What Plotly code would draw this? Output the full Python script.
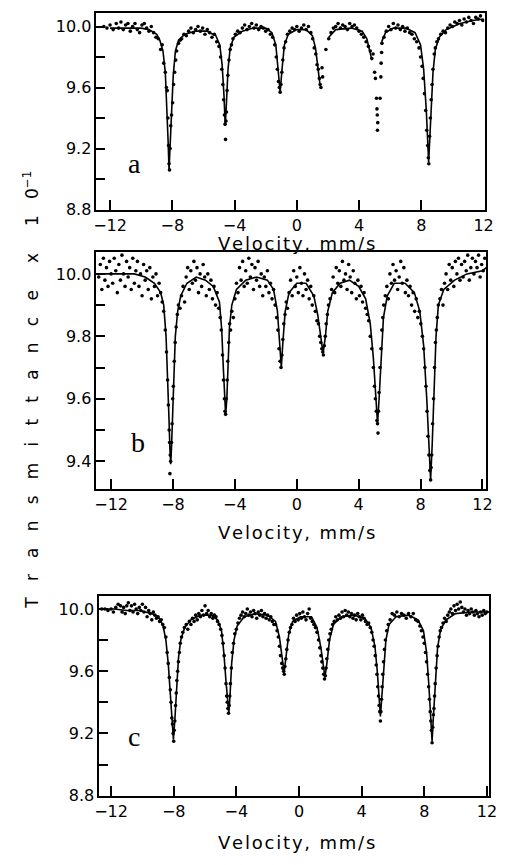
import plotly.graph_objects as go

# ---------------- data (velocity mm/s, transmittance x10^-1) ----------------
X_TICKS = [-12, -8, -4, 0, 4, 8, 12]
X_TICK_LABELS = ["\u221212", "\u22128", "\u22124", "0", "4", "8", "12"]
Y_TICKS_AC = [8.8, 9.0, 9.2, 9.4, 9.6, 9.8, 10.0]
Y_LABELS_AC = ["8.8", "", "9.2", "", "9.6", "", "10.0"]
Y_TICKS_B = [9.4, 9.5, 9.6, 9.7, 9.8, 9.9, 10.0]
Y_LABELS_B = ["9.4", "", "9.6", "", "9.8", "", "10.0"]
PANEL_LABELS = ["a", "b", "c"]
X_TITLE = "Velocity, mm/s"

DOTS_A = [
    (-12.4,10.0),(-12.2,9.99),(-12.0,10.01),(-11.8,9.98),(-11.6,10.02),(-11.45,9.99),(-11.3,10.03),
    (-11.15,9.98),(-11.0,10.01),(-10.85,10.02),(-10.7,9.97),(-10.55,10.0),(-10.4,10.02),(-10.25,9.98),
    (-10.1,9.96),(-9.95,10.01),(-9.8,10.02),(-9.65,9.99),(-9.5,9.97),(-9.35,10.0),(-9.2,9.96),
    (-9.05,9.93),(-8.9,9.92),(-8.75,9.85),(-8.65,9.88),
    (-8.55,9.76),(-8.45,9.7),(-8.38,9.6),(-8.32,9.58),(-8.28,9.4),(-8.24,9.22),(-8.21,9.1),(-8.18,9.06),
    (-8.14,9.2),(-8.1,9.35),(-8.05,9.42),(-7.98,9.5),(-7.92,9.62),(-7.85,9.7),(-7.78,9.78),(-7.72,9.84),
    (-7.6,9.89),(-7.5,9.91),(-7.4,9.92),
    (-7.25,9.95),(-7.1,9.94),(-6.95,9.97),(-6.8,9.99),(-6.65,9.96),(-6.5,9.98),(-6.35,10.0),(-6.2,9.97),
    (-6.05,9.99),(-5.9,9.95),(-5.75,9.98),(-5.6,9.96),(-5.45,9.93),(-5.3,9.95),(-5.15,9.9),(-5.0,9.87),
    (-4.9,9.8),(-4.82,9.72),(-4.75,9.62),(-4.7,9.52),(-4.65,9.42),(-4.61,9.36),(-4.58,9.26),(-4.55,9.38),
    (-4.52,9.44),(-4.48,9.58),(-4.43,9.68),(-4.36,9.78),(-4.28,9.85),(-4.2,9.88),(-4.1,9.92),
    (-3.95,9.95),(-3.8,9.97),(-3.65,9.96),(-3.5,9.99),(-3.35,10.01),(-3.2,9.98),(-3.05,10.0),(-2.9,10.02),
    (-2.75,9.99),(-2.6,10.01),(-2.45,9.98),(-2.3,10.0),(-2.15,9.99),(-2.0,9.97),(-1.85,9.98),(-1.7,9.95),
    (-1.55,9.93),(-1.42,9.88),
    (-1.32,9.8),(-1.25,9.72),(-1.18,9.64),(-1.12,9.6),(-1.07,9.57),(-1.02,9.62),(-0.96,9.7),(-0.9,9.78),
    (-0.82,9.86),(-0.72,9.9),(-0.6,9.95),
    (-0.45,9.97),(-0.3,9.99),(-0.15,9.98),(0.0,10.0),(0.15,9.97),(0.3,9.99),(0.45,10.01),(0.6,9.98),
    (0.75,10.0),(0.9,9.96),(1.02,9.92),(1.12,9.86),
    (1.22,9.82),(1.3,9.75),(1.38,9.72),(1.45,9.66),(1.5,9.62),(1.55,9.6),(1.62,9.73),(1.66,9.67),(1.87,9.85),
    (2.05,9.92),(2.2,9.96),(2.35,9.99),(2.5,10.0),(2.65,10.02),(2.8,9.99),(2.95,10.01),(3.1,10.0),
    (3.25,9.98),(3.4,10.02),(3.55,10.0),(3.7,10.01),(3.85,9.99),(4.0,9.97),(4.15,9.95),(4.3,9.93),
    (4.45,9.9),(4.6,9.87),(4.72,9.84),
    (4.82,9.79),(4.9,9.82),(5.0,9.7),(5.05,9.66),(5.12,9.53),(5.15,9.46),(5.17,9.42),(5.2,9.37),
    (5.18,9.32),(5.35,9.53),(5.4,9.67),(5.42,9.76),(5.45,9.83),(5.47,9.89),
    (5.6,9.93),(5.75,9.97),(5.9,10.0),(6.05,9.98),(6.2,10.02),(6.35,9.99),(6.5,10.01),(6.65,9.98),
    (6.8,10.0),(6.95,9.97),(7.1,9.99),(7.25,9.96),(7.4,9.95),(7.55,9.92),(7.7,9.9),(7.85,9.86),
    (7.95,9.8),(8.05,9.74),(8.12,9.66),(8.2,9.56),(8.28,9.45),(8.35,9.32),(8.41,9.22),(8.45,9.14),
    (8.48,9.1),(8.53,9.28),(8.58,9.4),(8.63,9.52),(8.69,9.62),(8.75,9.72),(8.83,9.82),(8.9,9.86),(9.0,9.9),
    (9.1,9.92),(9.25,9.95),(9.4,9.97),(9.55,9.96),(9.7,9.99),(9.85,10.01),(10.0,10.0),(10.15,10.03),
    (10.3,10.02),(10.45,10.04),(10.6,10.01),(10.75,10.05),(10.9,10.03),(11.05,10.06),(11.2,10.04),
    (11.35,10.02),(11.5,10.06),(11.65,10.05),(11.8,10.07),(11.95,10.04),
]

FIT_A = [
    (-12.0,9.99),(-11.0,9.99),(-10.0,9.99),(-9.5,9.98),(-9.0,9.95),(-8.8,9.91),(-8.6,9.84),(-8.45,9.7),
    (-8.35,9.5),(-8.27,9.25),(-8.21,9.06),(-8.14,9.25),(-8.04,9.5),(-7.94,9.68),(-7.8,9.84),(-7.6,9.91),
    (-7.2,9.95),(-6.5,9.97),(-5.8,9.97),(-5.2,9.94),(-4.95,9.88),(-4.8,9.75),(-4.68,9.55),(-4.6,9.35),
    (-4.52,9.5),(-4.42,9.72),(-4.28,9.86),(-4.05,9.93),(-3.5,9.97),(-2.8,9.99),(-2.0,9.99),(-1.6,9.96),
    (-1.35,9.88),(-1.2,9.72),(-1.07,9.57),(-0.95,9.72),(-0.8,9.88),(-0.55,9.95),(0.0,9.98),(0.6,9.98),
    (1.0,9.94),(1.2,9.86),(1.35,9.74),(1.5,9.61),
    (None,None),
    (2.05,9.93),(2.5,9.98),(3.5,9.99),(4.2,9.97),(4.5,9.92),(4.7,9.84),(4.8,9.79),
    (None,None),
    (5.45,9.9),(5.7,9.96),(6.2,9.99),(7.0,9.99),(7.6,9.96),(7.95,9.88),(8.15,9.72),(8.32,9.45),
    (8.47,9.11),(8.6,9.4),(8.75,9.7),(8.9,9.85),(9.15,9.93),(9.6,9.98),(10.5,10.02),(11.3,10.04),(12.0,10.05),
]

DOTS_B = [
    (-12.8,9.99),(-12.7,10.03),(-12.6,9.95),(-12.5,10.05),(-12.4,9.98),(-12.3,10.02),(-12.2,9.96),
    (-12.1,10.04),(-12.0,10.0),(-11.9,9.97),(-11.8,10.05),(-11.7,10.01),(-11.6,9.94),(-11.5,10.03),
    (-11.4,9.98),(-11.3,10.06),(-11.2,10.0),(-11.1,9.96),(-11.0,10.04),(-10.9,9.99),(-10.8,10.02),
    (-10.7,9.95),(-10.6,10.05),(-10.5,9.97),(-10.4,10.01),(-10.3,10.04),(-10.2,9.96),(-10.1,10.0),
    (-10.0,9.93),(-9.9,10.03),(-9.8,9.98),(-9.7,10.01),(-9.6,9.95),(-9.5,10.02),(-9.4,9.92),(-9.3,9.99),
    (-9.2,9.96),(-9.1,10.0),(-9.0,9.93),(-8.9,9.97),(-8.8,9.94),(-8.7,9.91),
    (-8.6,9.88),(-8.5,9.82),(-8.42,9.75),(-8.35,9.66),(-8.3,9.58),(-8.25,9.5),(-8.22,9.46),(-8.18,9.42),
    (-8.15,9.4),(-8.2,9.36),(-8.1,9.46),(-8.06,9.52),(-8.02,9.6),(-7.98,9.64),(-7.92,9.72),(-7.86,9.78),
    (-7.8,9.83),(-7.72,9.87),(-7.65,9.9),(-7.55,9.89),
    (-7.45,9.93),(-7.35,9.96),(-7.25,9.91),(-7.15,9.99),(-7.05,10.02),(-6.95,9.95),(-6.85,10.01),
    (-6.75,9.97),(-6.65,10.04),(-6.55,9.98),(-6.45,10.02),(-6.35,9.94),(-6.25,10.0),(-6.15,9.96),
    (-6.05,10.03),(-5.95,9.99),(-5.85,9.93),(-5.75,10.0),(-5.65,9.95),(-5.55,9.98),(-5.45,9.92),
    (-5.35,9.96),(-5.25,9.9),(-5.15,9.94),(-5.05,9.89),(-4.95,9.86),
    (-4.88,9.82),(-4.8,9.74),(-4.74,9.66),(-4.68,9.6),(-4.64,9.56),(-4.6,9.55),(-4.56,9.6),(-4.5,9.66),
    (-4.46,9.72),(-4.4,9.78),(-4.34,9.84),(-4.28,9.82),(-4.2,9.88),(-4.1,9.86),
    (-4.0,9.92),(-3.9,9.97),(-3.8,9.94),(-3.7,10.02),(-3.6,9.98),(-3.5,10.04),(-3.4,9.96),(-3.3,10.01),
    (-3.2,9.97),(-3.1,10.05),(-3.0,9.99),(-2.9,10.03),(-2.8,9.95),(-2.7,10.02),(-2.6,9.98),(-2.5,10.04),
    (-2.4,9.96),(-2.3,10.0),(-2.2,9.93),(-2.1,9.99),(-2.0,9.96),(-1.9,10.01),(-1.8,9.94),(-1.7,9.97),
    (-1.6,9.92),(-1.5,9.95),(-1.4,9.9),
    (-1.3,9.86),(-1.22,9.82),(-1.15,9.76),(-1.08,9.72),(-1.02,9.7),(-0.96,9.74),(-0.9,9.79),(-0.84,9.84),
    (-0.76,9.87),(-0.68,9.91),(-0.6,9.89),
    (-0.5,9.94),(-0.4,9.98),(-0.3,9.93),(-0.2,10.01),(-0.1,9.96),(0.0,9.99),(0.1,9.94),(0.2,10.02),
    (0.3,9.97),(0.4,9.93),(0.5,10.0),(0.6,9.95),(0.7,9.98),(0.8,9.92),(0.9,9.96),(1.0,9.9),(1.1,9.93),
    (1.2,9.88),(1.3,9.85),
    (1.4,9.84),(1.48,9.8),(1.55,9.78),(1.62,9.76),(1.68,9.75),(1.72,9.74),(1.78,9.77),(1.84,9.8),
    (1.9,9.84),(1.98,9.87),(2.05,9.9),(2.15,9.92),
    (2.25,9.95),(2.35,9.99),(2.45,9.94),(2.55,10.02),(2.65,9.97),(2.75,10.01),(2.85,9.96),(2.95,10.04),
    (3.05,9.98),(3.15,10.0),(3.25,9.95),(3.35,10.03),(3.45,9.99),(3.55,9.94),(3.65,10.01),(3.75,9.97),
    (3.85,9.92),(3.95,9.98),(4.05,9.93),(4.15,9.96),(4.25,9.91),(4.35,9.94),(4.45,9.89),(4.55,9.87),
    (4.65,9.85),(4.75,9.8),(4.85,9.76),(4.95,9.7),(5.02,9.64),(5.08,9.6),(5.14,9.56),(5.18,9.53),
    (5.22,9.52),(5.25,9.49),(5.28,9.56),(5.32,9.62),(5.38,9.7),(5.44,9.76),(5.5,9.82),(5.56,9.86),(5.62,9.9),
    (5.72,9.93),(5.82,9.96),(5.92,9.92),(6.02,10.0),(6.12,9.97),(6.22,10.03),(6.32,9.98),(6.42,10.01),
    (6.52,9.95),(6.62,9.99),(6.72,10.04),(6.82,9.97),(6.92,10.02),(7.02,9.94),(7.12,9.98),(7.22,9.93),
    (7.32,9.96),(7.42,9.9),(7.52,9.94),(7.62,9.88),(7.72,9.92),(7.82,9.86),(7.92,9.88),
    (8.02,9.84),(8.12,9.8),(8.2,9.76),(8.28,9.7),(8.35,9.64),(8.42,9.56),(8.48,9.48),(8.54,9.42),
    (8.6,9.37),(8.65,9.34),(8.68,9.38),(8.72,9.42),(8.78,9.52),(8.84,9.6),(8.9,9.7),(8.96,9.78),
    (9.02,9.82),(9.08,9.86),(9.15,9.9),
    (9.25,9.92),(9.35,9.95),(9.45,9.9),(9.55,9.97),(9.65,10.0),(9.75,9.95),(9.85,10.03),(9.95,9.98),
    (10.05,10.02),(10.15,9.96),(10.25,10.04),(10.35,10.0),(10.45,10.05),(10.55,9.98),(10.65,10.03),
    (10.75,9.99),(10.85,10.04),(10.95,10.01),(11.05,10.06),(11.15,9.98),(11.25,10.02),(11.35,10.05),
    (11.45,10.0),(11.55,10.04),(11.65,10.02),(11.75,10.06),(11.85,9.99),(11.95,10.03),(12.05,10.01),(12.15,10.05),
]

FIT_B = [
    (-12.9,10.0),(-11.5,10.0),(-10.5,10.0),(-9.8,9.99),(-9.2,9.97),(-8.8,9.94),(-8.6,9.9),(-8.45,9.8),
    (-8.35,9.68),(-8.27,9.55),(-8.2,9.44),(-8.15,9.39),(-8.1,9.44),(-8.03,9.56),(-7.95,9.68),(-7.85,9.8),
    (-7.7,9.88),(-7.5,9.93),(-7.1,9.97),(-6.5,9.99),(-5.9,9.98),(-5.4,9.96),(-5.0,9.91),(-4.85,9.82),
    (-4.75,9.7),(-4.65,9.58),(-4.6,9.55),(-4.52,9.6),(-4.45,9.72),(-4.35,9.83),(-4.2,9.9),(-3.9,9.95),
    (-3.3,9.98),(-2.6,9.99),(-1.9,9.98),(-1.5,9.95),(-1.25,9.88),(-1.1,9.78),(-1.0,9.7),(-0.9,9.78),
    (-0.75,9.88),(-0.5,9.94),(0.0,9.97),(0.6,9.97),(1.1,9.93),(1.35,9.87),(1.55,9.79),(1.7,9.745),
    (1.85,9.8),(2.0,9.88),(2.3,9.94),(2.8,9.97),(3.4,9.98),(4.0,9.96),(4.45,9.92),(4.75,9.84),(4.95,9.73),
    (5.1,9.6),(5.22,9.52),(5.32,9.6),(5.45,9.74),(5.6,9.86),(5.85,9.93),(6.3,9.97),(7.0,9.97),(7.6,9.94),
    (7.95,9.88),(8.2,9.77),(8.4,9.6),(8.55,9.42),(8.65,9.34),(8.75,9.45),(8.88,9.65),(9.0,9.8),(9.15,9.9),
    (9.5,9.95),(10.2,9.98),(11.0,10.0),(12.0,10.01),(12.25,10.02),
]

DOTS_C = [
    (-12.6,10.0),(-12.4,10.0),(-12.2,9.99),(-12.0,10.0),(-11.85,9.98),(-11.7,10.01),(-11.55,10.03),
    (-11.4,10.02),(-11.3,9.98),(-11.2,10.01),(-11.1,9.97),(-11.0,10.02),(-10.9,10.04),(-10.8,9.99),
    (-10.7,10.02),(-10.6,9.98),(-10.5,10.03),(-10.4,10.0),(-10.3,9.97),(-10.2,10.01),(-10.1,9.99),
    (-10.0,10.03),(-9.9,9.98),(-9.8,10.01),(-9.7,9.95),(-9.6,9.99),(-9.5,9.97),(-9.4,9.93),(-9.3,9.98),
    (-9.2,9.96),(-9.1,9.94),(-9.0,9.95),(-8.9,9.92),(-8.8,9.93),(-8.7,9.9),
    (-8.6,9.88),(-8.5,9.82),(-8.42,9.72),(-8.35,9.65),(-8.28,9.56),(-8.22,9.48),(-8.17,9.4),(-8.12,9.3),
    (-8.08,9.26),(-8.04,9.2),(-8.0,9.15),(-7.97,9.22),(-7.93,9.28),(-7.88,9.38),(-7.84,9.46),(-7.8,9.54),
    (-7.75,9.6),(-7.7,9.66),(-7.64,9.72),(-7.58,9.78),(-7.5,9.82),(-7.42,9.85),(-7.32,9.88),
    (-7.2,9.9),(-7.1,9.87),(-7.0,9.92),(-6.9,9.9),(-6.8,9.94),(-6.7,9.92),(-6.6,9.96),(-6.5,9.93),
    (-6.4,9.97),(-6.3,9.95),(-6.2,9.99),(-6.1,9.96),(-6.0,10.02),(-5.9,9.97),(-5.8,9.99),(-5.7,9.95),
    (-5.6,9.97),(-5.5,9.94),(-5.4,9.96),(-5.3,9.95),(-5.2,9.92),(-5.1,9.9),(-5.0,9.87),
    (-4.92,9.83),(-4.85,9.78),(-4.78,9.7),(-4.72,9.62),(-4.66,9.52),(-4.62,9.44),(-4.58,9.4),(-4.54,9.36),
    (-4.5,9.33),(-4.46,9.38),(-4.42,9.44),(-4.38,9.52),(-4.32,9.62),(-4.26,9.72),(-4.18,9.78),(-4.1,9.84),(-4.0,9.87),
    (-3.9,9.91),(-3.8,9.94),(-3.7,9.96),(-3.6,9.98),(-3.5,9.95),(-3.4,9.97),(-3.3,10.0),(-3.2,9.96),
    (-3.1,9.98),(-3.0,9.95),(-2.9,9.99),(-2.8,9.97),(-2.7,9.94),(-2.6,9.98),(-2.5,9.96),(-2.4,9.99),
    (-2.3,9.95),(-2.2,9.97),(-2.1,9.94),(-2.0,9.96),(-1.9,9.93),(-1.8,9.95),(-1.7,9.92),(-1.6,9.9),(-1.5,9.9),
    (-1.4,9.86),(-1.32,9.82),(-1.25,9.76),(-1.18,9.7),(-1.1,9.65),(-1.04,9.62),(-0.98,9.6),(-0.94,9.58),
    (-0.9,9.63),(-0.84,9.68),(-0.78,9.74),(-0.7,9.8),(-0.62,9.85),(-0.54,9.88),(-0.45,9.9),
    (-0.35,9.94),(-0.25,9.92),(-0.15,9.96),(-0.05,9.93),(0.05,9.97),(0.15,9.94),(0.25,9.98),(0.35,9.95),
    (0.45,9.93),(0.55,9.97),(0.65,10.0),(0.75,9.94),(0.85,9.92),(0.95,9.9),(1.05,9.88),
    (1.15,9.85),(1.25,9.8),(1.33,9.75),(1.4,9.7),(1.46,9.66),(1.52,9.62),(1.58,9.58),(1.63,9.55),
    (1.68,9.57),(1.73,9.62),(1.78,9.68),(1.84,9.74),(1.9,9.8),(1.98,9.84),(2.06,9.87),(2.15,9.9),
    (2.25,9.92),(2.35,9.95),(2.45,9.93),(2.55,9.96),(2.65,9.94),(2.75,9.98),(2.85,9.95),(2.95,9.99),
    (3.05,9.96),(3.15,9.98),(3.25,9.95),(3.35,9.97),(3.45,9.94),(3.55,9.96),(3.65,9.93),(3.75,9.97),
    (3.85,9.95),(3.95,9.93),(4.05,9.96),(4.15,9.94),(4.25,9.92),(4.35,9.9),(4.45,9.91),(4.55,9.88),
    (4.65,9.85),(4.73,9.8),(4.8,9.76),(4.87,9.7),(4.93,9.64),(4.98,9.58),(5.03,9.5),(5.08,9.44),
    (5.12,9.38),(5.16,9.34),(5.2,9.28),(5.23,9.34),(5.27,9.42),(5.31,9.5),(5.35,9.58),(5.4,9.66),
    (5.46,9.74),(5.52,9.8),(5.6,9.86),(5.7,9.9),
    (5.82,9.93),(5.95,9.97),(6.1,9.96),(6.25,9.98),(6.4,9.95),(6.55,9.97),(6.7,9.96),(6.85,9.94),
    (7.0,9.97),(7.15,9.95),(7.3,9.97),(7.45,9.93),(7.6,9.92),(7.72,9.89),(7.82,9.86),
    (7.92,9.82),(8.0,9.78),(8.08,9.72),(8.15,9.66),(8.22,9.58),(8.28,9.5),(8.33,9.42),(8.38,9.34),
    (8.42,9.28),(8.46,9.22),(8.5,9.14),(8.54,9.24),(8.58,9.32),(8.62,9.36),(8.66,9.44),(8.7,9.52),
    (8.76,9.62),(8.82,9.7),(8.88,9.76),(8.95,9.82),(9.02,9.86),(9.1,9.88),
    (9.2,9.91),(9.3,9.94),(9.4,9.92),(9.5,9.96),(9.6,9.98),(9.7,10.0),(9.8,9.97),(9.9,10.02),(10.0,9.99),
    (10.1,10.03),(10.3,10.045),(10.2,10.0),(10.4,10.01),(10.5,9.98),(10.6,10.0),(10.7,9.96),(10.8,9.99),
    (10.9,9.97),(11.0,10.0),(11.1,9.98),(11.2,9.96),(11.3,9.99),(11.4,9.97),(11.5,9.95),(11.6,9.98),
    (11.7,9.96),(11.8,9.99),(11.9,9.97),(12.0,9.98),
]

FIT_C = [
    (-12.75,10.0),(-11.8,10.0),(-11.0,9.99),(-10.2,9.99),(-9.4,9.97),(-9.0,9.95),(-8.7,9.9),(-8.5,9.8),
    (-8.35,9.65),(-8.2,9.45),(-8.1,9.28),(-8.02,9.16),(-7.92,9.3),(-7.82,9.5),(-7.7,9.68),(-7.55,9.8),
    (-7.3,9.88),(-6.9,9.93),(-6.3,9.96),(-5.6,9.96),(-5.2,9.93),(-4.95,9.86),(-4.8,9.72),(-4.65,9.52),
    (-4.55,9.38),(-4.48,9.33),(-4.4,9.45),(-4.3,9.65),(-4.15,9.8),(-3.95,9.89),(-3.5,9.95),(-2.8,9.97),
    (-2.0,9.96),(-1.5,9.92),(-1.25,9.82),(-1.1,9.7),(-0.95,9.59),(-0.82,9.7),(-0.65,9.84),(-0.4,9.92),
    (0.1,9.95),(0.8,9.95),(1.15,9.88),(1.4,9.75),(1.55,9.62),(1.66,9.56),(1.78,9.65),(1.95,9.8),(2.2,9.9),
    (2.7,9.95),(3.5,9.96),(4.2,9.94),(4.6,9.88),(4.85,9.76),(5.0,9.6),(5.12,9.42),(5.2,9.31),(5.28,9.42),
    (5.4,9.62),(5.55,9.8),(5.75,9.9),(6.2,9.95),(7.0,9.96),(7.6,9.93),(7.95,9.86),(8.15,9.72),(8.3,9.5),
    (8.42,9.28),(8.5,9.15),(8.58,9.3),(8.7,9.52),(8.85,9.75),(9.05,9.87),(9.4,9.93),(10.0,9.97),
    (11.0,9.98),(12.16,9.98),
]

# ---------------- layout helpers ----------------
W, H = 512, 865
FONT = "DejaVu Sans"

def fx(px):
    return px / W

def fy(py):
    return 1 - py / H

panels = [
    dict(dots=DOTS_A, fit=FIT_A, xpx=(94, 493), ypx=(13, 212), xr=(-12.875, 12.06), yr=(8.8, 10.09),
         yt=Y_TICKS_AC, yl=Y_LABELS_AC, lab=(133, 165), ttl=246),
    dict(dots=DOTS_B, fit=FIT_B, xpx=(94, 495), ypx=(255, 495), xr=(-12.95, 12.26), yr=(9.31, 10.07),
         yt=Y_TICKS_B, yl=Y_LABELS_B, lab=(137, 448), ttl=539),
    dict(dots=DOTS_C, fit=FIT_C, xpx=(97, 498), ypx=(603, 805), xr=(-12.75, 12.16), yr=(8.8, 10.083),
         yt=Y_TICKS_AC, yl=Y_LABELS_AC, lab=(133, 745), ttl=852),
]

fig = go.Figure()
annotations = []
xtitle_spaced = "\u200a".join(list(X_TITLE))
for i, p in enumerate(panels, start=1):
    xa = "x" if i == 1 else f"x{i}"
    ya = "y" if i == 1 else f"y{i}"
    fv = [d[0] for d in p["fit"]]
    ft = [d[1] for d in p["fit"]]
    fig.add_trace(go.Scatter(x=fv, y=ft, mode="lines", xaxis=xa, yaxis=ya,
                             line=dict(color="black", width=1.6), connectgaps=False,
                             hoverinfo="skip", showlegend=False))
    dv = [d[0] for d in p["dots"]]
    dt = [d[1] for d in p["dots"]]
    fig.add_trace(go.Scatter(x=dv, y=dt, mode="markers", xaxis=xa, yaxis=ya,
                             marker=dict(color="black", size=3.6, line=dict(width=0)),
                             showlegend=False))
    axis_common = dict(showline=True, linecolor="black", linewidth=1.8, mirror=True,
                       showgrid=False, zeroline=False, ticks="inside", tickcolor="black",
                       tickwidth=1.5, tickfont=dict(family=FONT, size=16, color="black"))
    xkey = "xaxis" if i == 1 else f"xaxis{i}"
    ykey = "yaxis" if i == 1 else f"yaxis{i}"
    fig.update_layout(**{
        xkey: dict(domain=[fx(p["xpx"][0]), fx(p["xpx"][1])], range=list(p["xr"]),
                   anchor=ya, tickvals=X_TICKS, ticktext=X_TICK_LABELS, ticklen=10,
                   **axis_common),
        ykey: dict(domain=[fy(p["ypx"][1]), fy(p["ypx"][0])], range=list(p["yr"]),
                   anchor=xa, tickvals=p["yt"], ticktext=p["yl"], ticklen=9,
                   **axis_common),
    })
    annotations.append(dict(text=PANEL_LABELS[i - 1], x=fx(p["lab"][0]), y=fy(p["lab"][1]),
                            xref="paper", yref="paper", showarrow=False,
                            font=dict(family="Liberation Serif", size=28, color="black"),
                            xanchor="center", yanchor="middle"))
    annotations.append(dict(text=xtitle_spaced, x=fx(300), y=fy(p["ttl"]), xref="paper", yref="paper",
                            showarrow=False, font=dict(family=FONT, size=18, color="black"),
                            xanchor="center", yanchor="middle"))

sp = "\u00a0\u00a0\u00a0"
wsp = "\u00a0" * 5
ytitle = sp.join(list("Transmittance")) + wsp + "x" + wsp + "1" + sp + "0<sup>\u22121</sup>"
annotations.append(dict(text=ytitle, x=fx(27), y=fy(394), xref="paper", yref="paper",
                        showarrow=False, textangle=-90,
                        font=dict(family=FONT, size=17, color="black"),
                        xanchor="center", yanchor="middle"))

fig.update_layout(width=W, height=H, margin=dict(l=0, r=0, t=0, b=0),
                  paper_bgcolor="white", plot_bgcolor="white",
                  annotations=annotations, showlegend=False)

fig.write_html("out.html")
